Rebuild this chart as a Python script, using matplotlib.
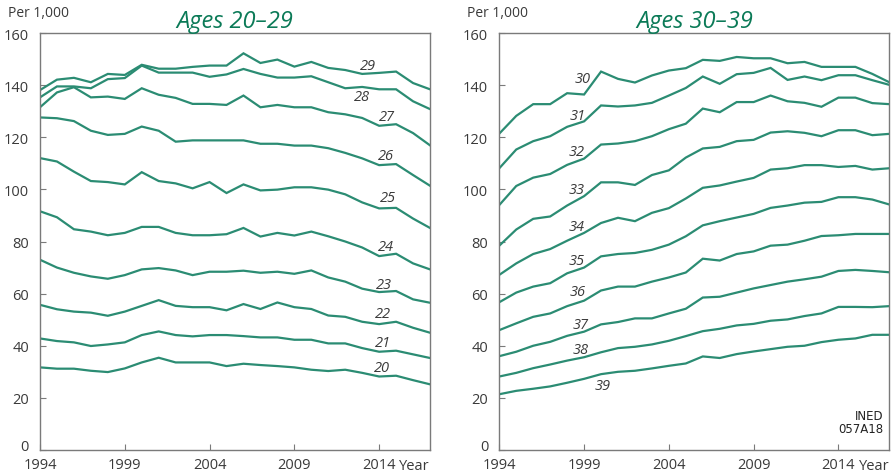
import matplotlib
matplotlib.use("Agg")
import matplotlib.pyplot as plt
from matplotlib.transforms import ScaledTranslation

plt.rcParams['font.family'] = ['Open Sans', 'DejaVu Sans']

# Годы
years = list(range(1994, 2018))

# Ages 20-29 (per 1,000)
age20 = [31.7, 31.2, 31.2, 30.4, 29.9, 31.3, 33.6, 35.4, 33.6, 33.6, 33.6, 32.2,
         33.1, 32.6, 32.2, 31.7, 30.8, 30.3, 30.8, 29.6, 28.2, 28.5, 26.8, 25.2]
age21 = [42.8, 41.8, 41.3, 39.9, 40.5, 41.3, 44.1, 45.5, 44.1, 43.6, 44.1, 44.1,
         43.7, 43.2, 43.2, 42.3, 42.3, 40.9, 40.9, 39.1, 37.7, 38.1, 36.7, 35.3]
age22 = [55.7, 54.0, 53.1, 52.7, 51.5, 53.1, 55.3, 57.5, 55.3, 54.8, 54.8, 53.6,
         56.0, 54.1, 56.6, 54.8, 54.1, 51.6, 51.1, 49.2, 48.3, 49.2, 46.9, 45.0]
age23 = [73.0, 70.0, 68.0, 66.6, 65.7, 67.1, 69.3, 69.8, 68.9, 67.1, 68.4, 68.4,
         68.8, 68.0, 68.4, 67.6, 68.9, 66.2, 64.6, 61.9, 60.6, 61.0, 57.8, 56.5]
age24 = [91.6, 89.3, 84.7, 83.8, 82.4, 83.3, 85.6, 85.6, 83.3, 82.4, 82.4, 82.8,
         85.2, 81.9, 83.3, 82.3, 83.8, 82.0, 80.0, 77.7, 74.4, 75.3, 71.6, 69.3]
age25 = [112.0, 110.7, 106.8, 103.2, 102.8, 101.9, 106.6, 103.2, 102.3, 100.4, 102.8, 98.6,
         101.9, 99.6, 99.9, 100.8, 100.8, 99.9, 98.1, 95.0, 92.7, 92.9, 88.8, 85.2]
age26 = [127.6, 127.3, 126.2, 122.5, 120.9, 121.3, 124.1, 122.5, 118.3, 118.8, 118.8, 118.8,
         118.8, 117.5, 117.5, 116.8, 116.8, 115.8, 114.0, 111.9, 109.3, 109.7, 105.5, 101.4]
age27 = [131.5, 137.2, 139.2, 135.3, 135.6, 134.7, 138.8, 136.3, 135.1, 132.8, 132.8, 132.4,
         136.0, 131.5, 132.4, 131.5, 131.5, 129.6, 128.8, 127.4, 124.4, 125.0, 121.6, 116.9]
age28 = [135.3, 139.5, 139.5, 138.8, 142.3, 142.7, 147.5, 144.8, 144.8, 144.8, 143.2, 144.1,
         146.2, 144.3, 142.9, 142.9, 143.4, 141.1, 138.8, 139.3, 138.4, 138.4, 133.8, 130.8]
age29 = [138.1, 142.1, 142.8, 141.1, 144.3, 143.9, 147.8, 146.3, 146.3, 147.0, 147.5, 147.5,
         152.2, 148.5, 149.8, 147.1, 148.9, 146.6, 145.8, 144.3, 144.7, 145.2, 140.8, 138.4]

# Ages 30-39 (per 1,000)
age30 = [121.4, 128.2, 132.7, 132.7, 136.9, 136.4, 145.2, 142.4, 141.0, 143.7, 145.6, 146.5,
         149.7, 149.3, 150.8, 150.3, 150.3, 148.4, 148.9, 147.0, 147.0, 147.0, 144.3, 141.1]
age31 = [108.1, 115.3, 118.5, 120.4, 124.0, 126.1, 132.2, 131.8, 132.2, 133.2, 136.0, 138.9,
         143.3, 140.5, 144.2, 144.7, 146.6, 142.0, 143.3, 141.9, 143.8, 143.8, 141.9, 140.1]
age32 = [94.0, 101.3, 104.5, 105.9, 109.4, 111.8, 117.2, 117.6, 118.5, 120.4, 123.1, 125.2,
         131.0, 129.6, 133.5, 133.5, 136.0, 133.8, 133.2, 131.7, 135.2, 135.2, 133.1, 132.7]
age33 = [78.4, 84.6, 88.7, 89.6, 93.8, 97.4, 102.7, 102.7, 101.7, 105.5, 107.3, 112.2,
         115.7, 116.3, 118.5, 119.0, 121.8, 122.3, 121.7, 120.4, 122.7, 122.7, 120.8, 121.3]
age34 = [67.2, 71.6, 75.2, 77.1, 80.3, 83.3, 87.1, 89.1, 87.8, 91.0, 92.8, 96.5,
         100.6, 101.5, 103.0, 104.4, 107.6, 108.1, 109.3, 109.3, 108.6, 109.0, 107.6, 108.1]
age35 = [56.7, 60.4, 62.7, 64.0, 67.8, 70.0, 74.3, 75.2, 75.6, 76.8, 78.8, 82.0,
         86.2, 87.8, 89.2, 90.6, 92.9, 93.8, 94.9, 95.2, 97.0, 97.0, 96.1, 94.2]
age36 = [46.0, 48.6, 51.1, 52.4, 55.2, 57.3, 61.2, 62.7, 62.7, 64.6, 66.2, 68.1,
         73.4, 72.7, 75.2, 76.2, 78.4, 78.8, 80.3, 82.1, 82.4, 82.9, 82.9, 82.9]
age37 = [36.0, 37.7, 40.0, 41.5, 43.8, 45.4, 48.2, 49.1, 50.5, 50.5, 52.4, 54.2,
         58.5, 58.8, 60.4, 62.0, 63.3, 64.6, 65.5, 66.5, 68.7, 69.1, 68.7, 68.2]
age38 = [28.2, 29.6, 31.4, 32.8, 34.3, 35.6, 37.5, 39.1, 39.6, 40.5, 41.9, 43.7,
         45.6, 46.5, 47.8, 48.4, 49.6, 50.1, 51.4, 52.4, 54.9, 54.9, 54.8, 55.2]
age39 = [21.4, 22.7, 23.5, 24.4, 25.8, 27.3, 29.1, 30.0, 30.4, 31.3, 32.3, 33.2,
         35.9, 35.3, 36.8, 37.8, 38.7, 39.6, 40.0, 41.4, 42.3, 42.8, 44.2, 44.2]

series_left = [age20, age21, age22, age23, age24, age25, age26, age27, age28, age29]
series_right = [age30, age31, age32, age33, age34, age35, age36, age37, age38, age39]
names_left = ['20', '21', '22', '23', '24', '25', '26', '27', '28', '29']
names_right = ['30', '31', '32', '33', '34', '35', '36', '37', '38', '39']

# Позиции подписей (год, значение)
lab_left = [(2014.15, 31.7), (2014.25, 41.3), (2014.2, 52.2), (2014.3, 63.6), (2014.4, 78.1),
            (2014.5, 96.7), (2014.4, 112.9), (2014.45, 128.0), (2013.0, 135.6), (2013.35, 147.7)]
lab_right = [(1998.9, 142.7), (1998.65, 128.4), (1998.55, 114.4), (1998.55, 100.0), (1998.55, 85.9),
             (1998.55, 72.6), (1998.6, 60.8), (1998.8, 48.2), (1998.8, 38.7), (2000.1, 24.8)]

line_color = '#2b8c73'
title_color = '#0b7a57'
text_color = '#3a3a3a'
spine_color = '#7a7a7a'

fig = plt.figure(figsize=(8.95, 4.77), dpi=100)
ax1 = fig.add_axes([40 / 895, 26 / 477, 390 / 895, 417 / 477])
ax2 = fig.add_axes([499.3 / 895, 26 / 477, 390 / 895, 417 / 477])


def draw_panel(ax, series, names, labels, title):
    for s in series:
        ax.plot(years, s, color=line_color, lw=1.6, solid_joinstyle='miter')
    for n, (x, y) in zip(names, labels):
        ax.text(x, y, n, ha='center', va='center', style='italic',
                fontsize=10.5, color=text_color)
    ax.set_xlim(1994, 2017)
    ax.set_ylim(0, 160)
    ax.set_yticks(range(0, 161, 20))
    ax.set_xticks([1994, 1999, 2004, 2009, 2014])
    ax.tick_params(direction='in', length=4, color=spine_color, labelsize=10.5,
                   labelcolor=text_color, pad=5)
    ax.tick_params(axis='y', pad=8)
    # "0" чуть выше, как в оригинале
    zero = ax.get_yticklabels()[0]
    zero.set_transform(zero.get_transform() + ScaledTranslation(0, 4 / 72, fig.dpi_scale_trans))
    for sp in ax.spines.values():
        sp.set_color(spine_color)
        sp.set_linewidth(1.0)
    ax.set_title(title, style='italic', fontsize=17, color=title_color, pad=4)
    ax.text(-0.082, 1.048, 'Per 1,000', transform=ax.transAxes, fontsize=10,
            color=text_color, ha='left', va='center')
    ax.text(1.0, -0.038, 'Year', transform=ax.transAxes, fontsize=10.5,
            color=text_color, ha='right', va='center')


draw_panel(ax1, series_left, names_left, lab_left, 'Ages 20–29')
draw_panel(ax2, series_right, names_right, lab_right, 'Ages 30–39')

ax2.text(0.985, 0.035, 'INED\n057A18', transform=ax2.transAxes, fontsize=8.5,
         color='#222222', ha='right', va='bottom', linespacing=1.0,
         family='Liberation Sans Narrow')

fig.savefig('out.png', dpi=100)
